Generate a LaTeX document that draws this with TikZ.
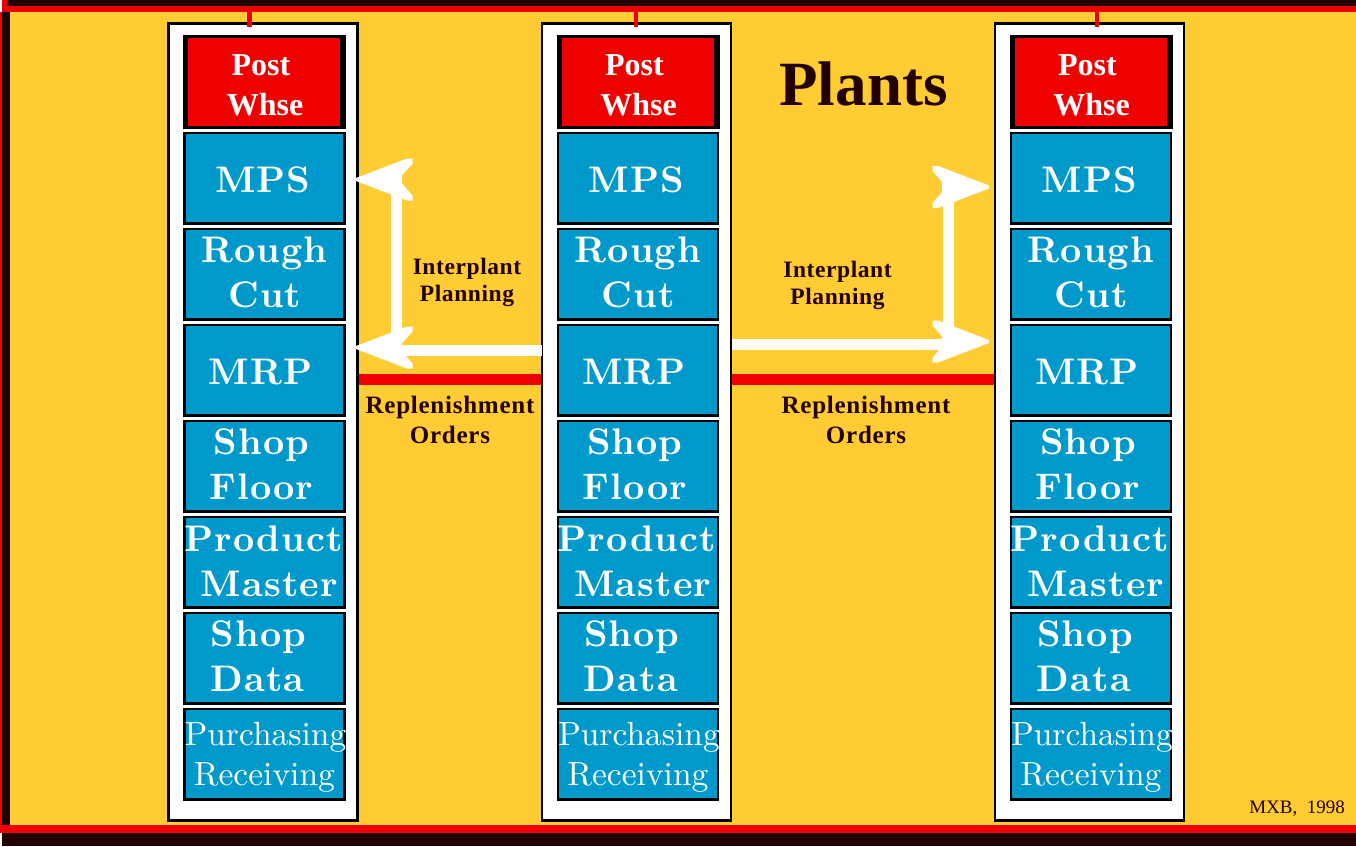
\documentclass[tikz,border=0pt]{standalone}
\usepackage{fontspec}
\setmainfont{Liberation Serif}
\newfontfamily\lmr[Extension=.otf,BoldFont=lmroman10-bold]{lmroman10-regular}
\usetikzlibrary{arrows.meta}
\definecolor{gold}{HTML}{FFCC33}
\definecolor{rd}{HTML}{EE0000}
\definecolor{blu}{HTML}{0099CC}
\definecolor{dk}{HTML}{220000}
\newcommand{\tl}[2]{\makebox[0pt][c]{\hspace{#1pt}#2}}
\pgfdeclarearrow{
  name=BluntHead,
  setup code={
    \pgfarrowssettipend{0pt}
    \pgfarrowssetlineend{-44pt}
    \pgfarrowssetbackend{-56.5pt}
    \pgfarrowssetvisualbackend{-45pt}
  },
  drawing code={
    \pgfpathmoveto{\pgfqpoint{0pt}{1.5pt}}
    \pgfpathlineto{\pgfqpoint{-51pt}{21pt}}
    \pgfpathlineto{\pgfqpoint{-56.5pt}{21pt}}
    \pgfpathlineto{\pgfqpoint{-56.5pt}{16pt}}
    \pgfpathlineto{\pgfqpoint{-45pt}{3pt}}
    \pgfpathlineto{\pgfqpoint{-45pt}{-3pt}}
    \pgfpathlineto{\pgfqpoint{-56.5pt}{-16pt}}
    \pgfpathlineto{\pgfqpoint{-56.5pt}{-21pt}}
    \pgfpathlineto{\pgfqpoint{-51pt}{-21pt}}
    \pgfpathlineto{\pgfqpoint{0pt}{-1.5pt}}
    \pgfpathclose
    \pgfusepathqfill
  },
  defaults={}
}
\tikzset{
  x=1pt,y=-1pt,
  band/.style={fill=#1,draw=none},
  outerbox/.style={draw=black,fill=white,line width=2.5pt,minimum width=189.4pt,minimum height=797pt,inner sep=0pt},
  bluebox/.style={draw=black,fill=blu,line width=2.7pt,minimum width=160pt,minimum height=90.5pt,inner sep=0pt},
  blackbox/.style={fill=black,minimum width=163pt,minimum height=93.5pt,inner sep=0pt},
  redbox/.style={fill=rd,minimum width=152pt,minimum height=88pt,inner sep=0pt},
  heavy/.style={text=white,inner sep=0pt,align=center,font=\lmr\bfseries\fontsize{37}{45}\selectfont\addfontfeatures{LetterSpace=3}},
  light/.style={text=white,inner sep=0pt,align=center,font=\lmr\fontsize{33.5}{40}\selectfont},
  posttext/.style={text=white,inner sep=0pt,align=center,font=\bfseries\fontsize{32}{40}\selectfont},
  flowtext/.style={text=dk,inner sep=0pt,align=center,font=\bfseries\fontsize{23.5}{27}\selectfont\addfontfeatures{LetterSpace=2.5}},
  ordertext/.style={text=dk,inner sep=0pt,align=center,font=\bfseries\fontsize{25}{29.5}\selectfont\addfontfeatures{LetterSpace=3}},
  whitearrow/.style={draw=white,line width=11pt,-{BluntHead}},
  whiteline/.style={draw=white,line width=11pt},
  redline/.style={draw=rd,line width=10.5pt},
  stubline/.style={draw=rd,line width=4.5pt}
}
\begin{document}
\begin{tikzpicture}
\useasboundingbox (0,0) rectangle (1356,846);
% frame
\fill[band=white] (0,0) rectangle (1356,846);
\fill[band=gold] (2,6) rectangle (1356,825);
\fill[band=dk] (7,0) rectangle (1356,6);
\fill[band=rd] (2,0) rectangle (7,6);
\fill[band=rd] (2,6) rectangle (1356,11.5);
\fill[band=rd] (0,11.5) rectangle (2,825);
\fill[band=dk] (2,11.5) rectangle (9.5,825);
\fill[band=rd] (0,825) rectangle (1356,833);
\fill[band=dk] (2,833) rectangle (1356,846);
% top anchors of the stubs
\coordinate (tA) at (249.5,11);
\coordinate (tB) at (636,11);
\coordinate (tC) at (1097,11);
% columns
\foreach \c/\d in {A/0,B/373.5,C/826.5}{
  \node[outerbox] (outer\c) at ({263+\d},422) {};
  \node[blackbox] (pb\c) at ({264.5+\d},81.8) {};
  \node[redbox] (post\c) at ({264+\d},82) {};
  \node[posttext] at ({264.5+\d},85) {\tl{-7}{Post}\\\tl{1}{Whse}};
  \node[bluebox] (mps\c) at ({264.4+\d},178.1) {};
  \node[bluebox] (rough\c) at ({264.4+\d},274.1) {};
  \node[bluebox] (mrp\c) at ({264.4+\d},370.1) {};
  \node[bluebox] (floor\c) at ({264.4+\d},466.1) {};
  \node[bluebox] (prod\c) at ({264.4+\d},562.1) {};
  \node[bluebox] (data\c) at ({264.4+\d},658.1) {};
  \node[bluebox] (purch\c) at ({264.4+\d},754.1) {};
  \node[heavy] at ([yshift=-2pt]mps\c.center) {\tl{-3}{MPS}};
  \node[heavy] at ([yshift=2pt]rough\c.center) {\tl{0}{Rough}\\\tl{1}{Cut}};
  \node[heavy] at ([yshift=-2pt]mrp\c.center) {\tl{-8}{MRP}};
  \node[heavy] at ([yshift=2pt]floor\c.center) {\tl{-6}{Shop}\\\tl{-6}{Floor}};
  \node[heavy] at ([yshift=1pt]prod\c.center) {\tl{-2}{Product}\\\tl{10}{Master}};
  \node[heavy] at ([yshift=2pt]data\c.center) {\tl{-12}{Shop}\\\tl{-14}{Data}};
  \node[light] at ([yshift=-3pt]purch\c.center) {\tl{2}{Purchasing}\\\tl{0}{Receiving}};
  \draw[stubline] (t\c) -- ++(0,16);
}
% arrow coordinates
\coordinate (l0) at (542,350);
\coordinate (lc) at (396.5,350);
\coordinate (lt) at (396.5,179);
\coordinate (ln1) at (402,179.5);
\coordinate (lh1) at (356,179.5);
\coordinate (ln2) at (402,347.5);
\coordinate (lh2) at (356,347.5);
\coordinate (r0) at (732,344.5);
\coordinate (rc) at (948,344.5);
\coordinate (rt) at (948,187);
\coordinate (rn1) at (942,187);
\coordinate (rh1) at (989,187);
\coordinate (rn2) at (942,341.5);
\coordinate (rh2) at (989,341.5);
\draw[whiteline] (l0) -- (lc);
\draw[whiteline] (lc) -- (lt);
\draw[whitearrow] (ln1) -- (lh1);
\draw[whitearrow] (ln2) -- (lh2);
\draw[whiteline] (r0) -- (rc);
\draw[whiteline] (rc) -- (rt);
\draw[whitearrow] (rn1) -- (rh1);
\draw[whitearrow] (rn2) -- (rh2);
% replenishment lines
\draw[redline] (outerA.east |- 0,379.5) -- (outerB.west |- 0,379.5);
\draw[redline] (outerB.east |- 0,379.5) -- (outerC.west |- 0,379.5);
% labels
\node[flowtext] (ipl) at (467,282) {Interplant\\Planning};
\node[flowtext] (ipr) at (837.5,285) {Interplant\\Planning};
\node[ordertext] (rol) at (450,420) {Replenishment\\Orders};
\node[ordertext] (ror) at (866,420) {Replenishment\\Orders};
\node[text=dk,inner sep=0pt,font=\bfseries\fontsize{63}{63}\selectfont] (title) at (863.5,84) {Plants};
\node[text=dk,inner sep=0pt,anchor=east,font=\fontsize{19}{20}\selectfont] (sig) at (1345,809) {MXB,\ \ 1998};
\end{tikzpicture}
\end{document}
